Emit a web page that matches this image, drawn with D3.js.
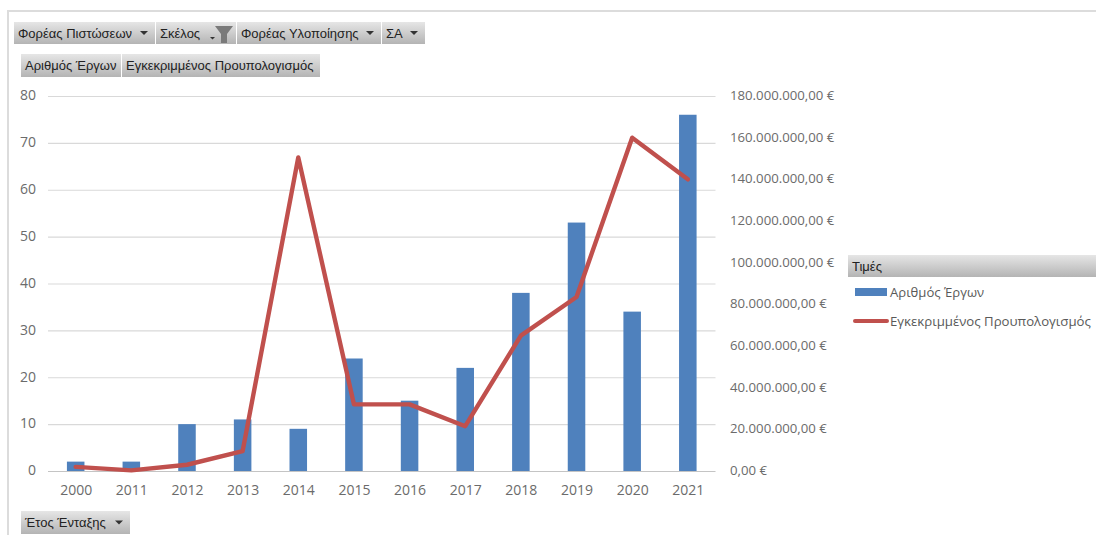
<!DOCTYPE html>
<html><head><meta charset="utf-8">
<script src="https://cdn.jsdelivr.net/npm/d3@7"></script>
<style>html,body{margin:0;padding:0;background:#fff}svg{display:block}text{font-family:"Open Sans","Noto Sans",sans-serif}</style>
</head><body><svg id="c" width="1096" height="535"></svg>
<script>
const years=["2000","2011","2012","2013","2014","2015","2016","2017","2018","2019","2020","2021"];
const projects=[2,2,10,11,9,24,15,22,38,53,34,76];
const budget=[2000000,300000,3000000,9500000,150500000,32000000,32000000,21500000,65000000,83500000,160000000,140000000];
const leftTicks=[0,10,20,30,40,50,60,70,80];
const rightTicks=[0,20e6,40e6,60e6,80e6,100e6,120e6,140e6,160e6,180e6];
const seriesNames=["Αριθμός Έργων","Εγκεκριμμένος Προυπολογισμός"];
const topButtons=[["Φορέας Πιστώσεων",14,141,true],["Σκέλος",156,80,false],["Φορέας Υλοποίησης",237,144,true],["ΣΑ",382,43,true]];
const valueButtons=[["Αριθμός Έργων",21,100],["Εγκεκριμμένος Προυπολογισμός",122,198]];

const svg=d3.select("#c");
const defs=svg.append("defs");
const g1=defs.append("linearGradient").attr("id","btn").attr("x1",0).attr("x2",0).attr("y1",0).attr("y2",1);
g1.append("stop").attr("offset","0").attr("stop-color","#e6e6e6");
g1.append("stop").attr("offset","1").attr("stop-color","#b4b4b4");

// frame
svg.append("path").attr("d","M1096 11H8V535").attr("fill","none").attr("stroke","#dcdcdc").attr("stroke-width",2);

const x=d3.scaleBand().domain(years).range([48,715.5]).paddingInner(0.685).paddingOuter(0.34);
const yL=d3.scaleLinear().domain([0,80]).range([471,96]);
const yR=d3.scaleLinear().domain([0,180e6]).range([471,96]);
const fmt=d=>d3.format(",.0f")(d).replace(/,/g,".")+",00 €";

svg.append("g").selectAll("line").data(leftTicks).join("line")
 .attr("x1",48).attr("x2",715.5).attr("y1",d=>yL(d)+.5).attr("y2",d=>yL(d)+.5)
 .attr("stroke",d=>d===0?"#c4c4c4":"#d9d9d9").attr("stroke-width",1.2);

const axL=svg.append("g").attr("transform","translate(36,-1)").call(d3.axisLeft(yL).tickValues(leftTicks).tickSize(0).tickPadding(0));
axL.select(".domain").remove();
axL.selectAll("text").attr("font-size",14).attr("fill","#6b6b6b").attr("dy","0.34em");
const axR=svg.append("g").attr("transform","translate(730,-1)").call(d3.axisRight(yR).tickValues(rightTicks).tickSize(0).tickPadding(0).tickFormat(fmt));
axR.select(".domain").remove();
axR.selectAll("text").attr("font-size",13.2).attr("fill","#6b6b6b").attr("dy","0.34em");
const c=x.bandwidth()/2;
const axB=svg.append("g").attr("transform","translate(0.5,485)").call(d3.axisBottom(x).tickSize(0).tickPadding(0));
axB.select(".domain").remove();
axB.selectAll("text").attr("font-size",14).attr("fill","#6b6b6b").attr("dy","0.71em");

svg.append("g").selectAll("rect").data(years).join("rect")
 .attr("x",d=>x(d)).attr("width",x.bandwidth())
 .attr("y",(d,i)=>yL(projects[i])).attr("height",(d,i)=>471-yL(projects[i]))
 .attr("fill","#4f81bd");

const line=d3.line().x((d,i)=>x(years[i])+c).y(d=>yR(d)).curve(d3.curveLinear);
svg.append("path").datum(budget).attr("d",line).attr("fill","none").attr("stroke","#c0504d").attr("stroke-width",4.4).attr("stroke-linejoin","round").attr("stroke-linecap","round");

function button(label,bx,by,w,h,arrow,size){
  const g=svg.append("g");
  g.append("rect").attr("x",bx).attr("y",by).attr("width",w).attr("height",h).attr("fill","url(#btn)");
  g.append("text").attr("x",bx+4).attr("y",by+h/2+4.5).attr("font-size",size||13).style("font-family",'"Liberation Sans",Arial,sans-serif').attr("fill","#222").text(label);
  if(arrow) g.append("path").attr("d",`M${bx+w-15} ${by+h/2-2}h8l-4 4z`).attr("fill","#333");
}
topButtons.forEach(b=>button(b[0],b[1],22,b[2],22,b[3]));
// filter marker on Σκέλος
svg.append("path").attr("d","M210 37h5l-2.5 2.5z").attr("fill","#333");
svg.append("path").attr("d","M215 26h18l-6 8v9h-6v-9z").attr("fill","#7a7a7a");
valueButtons.forEach(b=>button(b[0],b[1],54,b[2],23,false));
button("Έτος Ένταξης",21,511,109,23,true);
button("Τιμές",848,255,248,22,false);

// legend
svg.append("rect").attr("x",855).attr("y",288).attr("width",32).attr("height",8).attr("fill","#4f81bd");
svg.append("text").attr("x",890).attr("y",297).attr("font-size",13.1).attr("fill","#595959").text(seriesNames[0]);
svg.append("line").attr("x1",855).attr("x2",887).attr("y1",321).attr("y2",321).attr("stroke","#c0504d").attr("stroke-width",4).attr("stroke-linecap","round");
svg.append("text").attr("x",890).attr("y",326).attr("font-size",13.2).attr("fill","#595959").text(seriesNames[1]);
</script></body></html>
